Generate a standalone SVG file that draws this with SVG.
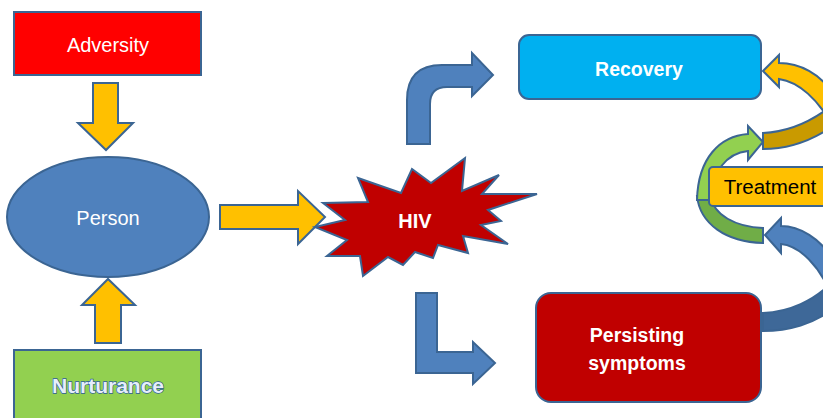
<svg xmlns="http://www.w3.org/2000/svg" width="823" height="418" viewBox="0 0 823 418">
  <style>
    .shape { stroke: #3B6593; stroke-width: 2; stroke-linejoin: miter; }
    .lbl { font-family: "Liberation Sans", Arial, sans-serif; text-anchor: middle; }
    .w { fill: #FFFFFF; }
    .b { font-weight: bold; }
  </style>
  <rect width="823" height="418" fill="#FFFFFF"/>

  <!-- connectors: block arrows -->
  <g id="connectors">
    <!-- Adversity to Person -->
    <path class="shape" fill="#FFC000" d="M93,83 L118,83 L118,123 L133,123 L106,150 L78,123 L93,123 Z"/>
    <!-- Nurturance to Person -->
    <path class="shape" fill="#FFC000" d="M95,343 L121,343 L121,305 L135,305 L108,279 L82,305 L95,305 Z"/>
    <!-- Person to HIV -->
    <path class="shape" fill="#FFC000" d="M220,205 L298,205 L298,191 L325,217 L298,244 L298,229 L220,229 Z"/>
    <!-- HIV to Recovery -->
    <path class="shape" fill="#4F81BD" d="M407,144 L407,100 Q407,65 442,65 L472,65 L472,53 L493,75 L472,96 L472,87 L447,87 Q430,87 430,104 L430,144 Z"/>
    <!-- HIV to Persisting symptoms -->
    <path class="shape" fill="#4F81BD" d="M416,293 L437,293 L437,352 L473,352 L473,342 L495,363 L473,384 L473,373 L416,373 Z"/>

    <!-- Treatment loop to Recovery (back, then front with head) -->
    <path class="shape" fill="#C99A00" d="M763,133 C786,132 809,123 830,107 L830,128 C809,142 786,149 763,149 Z"/>
    <path class="shape" fill="#FFC000" d="M779,63 C801,63 820,75 830,90 L830,121 C818,101 800,82 779,79 L779,87 L763,71 L779,55 Z"/>

    <!-- Treatment loop, green (back, then front with head) -->
    <path class="shape" fill="#70AD47" d="M697,196 C700,224 726,242 763,243 L763,228 C736,227 713,215 711,196 Z"/>
    <path class="shape" fill="#92D050" d="M748,134 C720,136 698,158 697,200 L711,200 C711,172 727,153 748,151 L748,160 L763,142 L748,126 Z"/>

    <!-- Persisting symptoms loop back (back, then front with head) -->
    <path class="shape" fill="#3E6898" d="M763,313 C790,312 814,300 830,284 L830,311 C814,323 790,331 763,331 Z"/>
    <path class="shape" fill="#4F81BD" d="M781,226 C801,226 820,240 830,255 L830,292 C820,268 801,246 781,244 L781,253 L765,235 L781,218 Z"/>
  </g>

  <g id="adversity">
    <rect class="shape" x="14" y="12" width="187" height="63" fill="#FF0000"/>
    <text class="lbl w" x="108" y="52" font-size="20">Adversity</text>
  </g>

  <g id="person">
    <ellipse class="shape" cx="108" cy="217" rx="101" ry="60" fill="#4F81BD"/>
    <text class="lbl w" x="108" y="225" font-size="20">Person</text>
  </g>

  <g id="nurturance">
    <rect class="shape" x="14" y="350" width="187" height="80" fill="#92D050"/>
    <text class="lbl" x="108" y="393" font-size="21" fill="#E6EFFA" stroke="#2E5C9A" stroke-width="1.3" paint-order="stroke" font-weight="bold">Nurturance</text>
  </g>

  <g id="hiv">
    <polygon class="shape" fill="#C00000" points="323,203 368,202 358,178 401,193 412,169 431,183 465,158 462,191 499,175 482,194 537,194 488,210 501,221 481,225 508,244 463,236 468,253 438,245 433,258 415,252 403,265 388,257 363,276 360,256 327,256 347,240 315,227 345,220"/>
    <text class="lbl w b" x="415" y="228" font-size="20">HIV</text>
  </g>

  <g id="recovery">
    <rect class="shape" x="519" y="35" width="242" height="64" rx="10" fill="#00B0F0"/>
    <text class="lbl w b" x="639" y="76" font-size="19.5">Recovery</text>
  </g>

  <g id="persisting">
    <rect class="shape" x="536" y="293" width="225" height="109" rx="15" fill="#C00000"/>
    <text class="lbl w b" x="637" y="342" font-size="19.5">Persisting</text>
    <text class="lbl w b" x="637" y="370" font-size="19.5">symptoms</text>
  </g>

  <g id="treatment">
    <rect class="shape" x="709" y="167" width="130" height="39" rx="4" fill="#FFC000"/>
    <text class="lbl" x="770" y="194" font-size="20.5" fill="#000000">Treatment</text>
  </g>
</svg>
